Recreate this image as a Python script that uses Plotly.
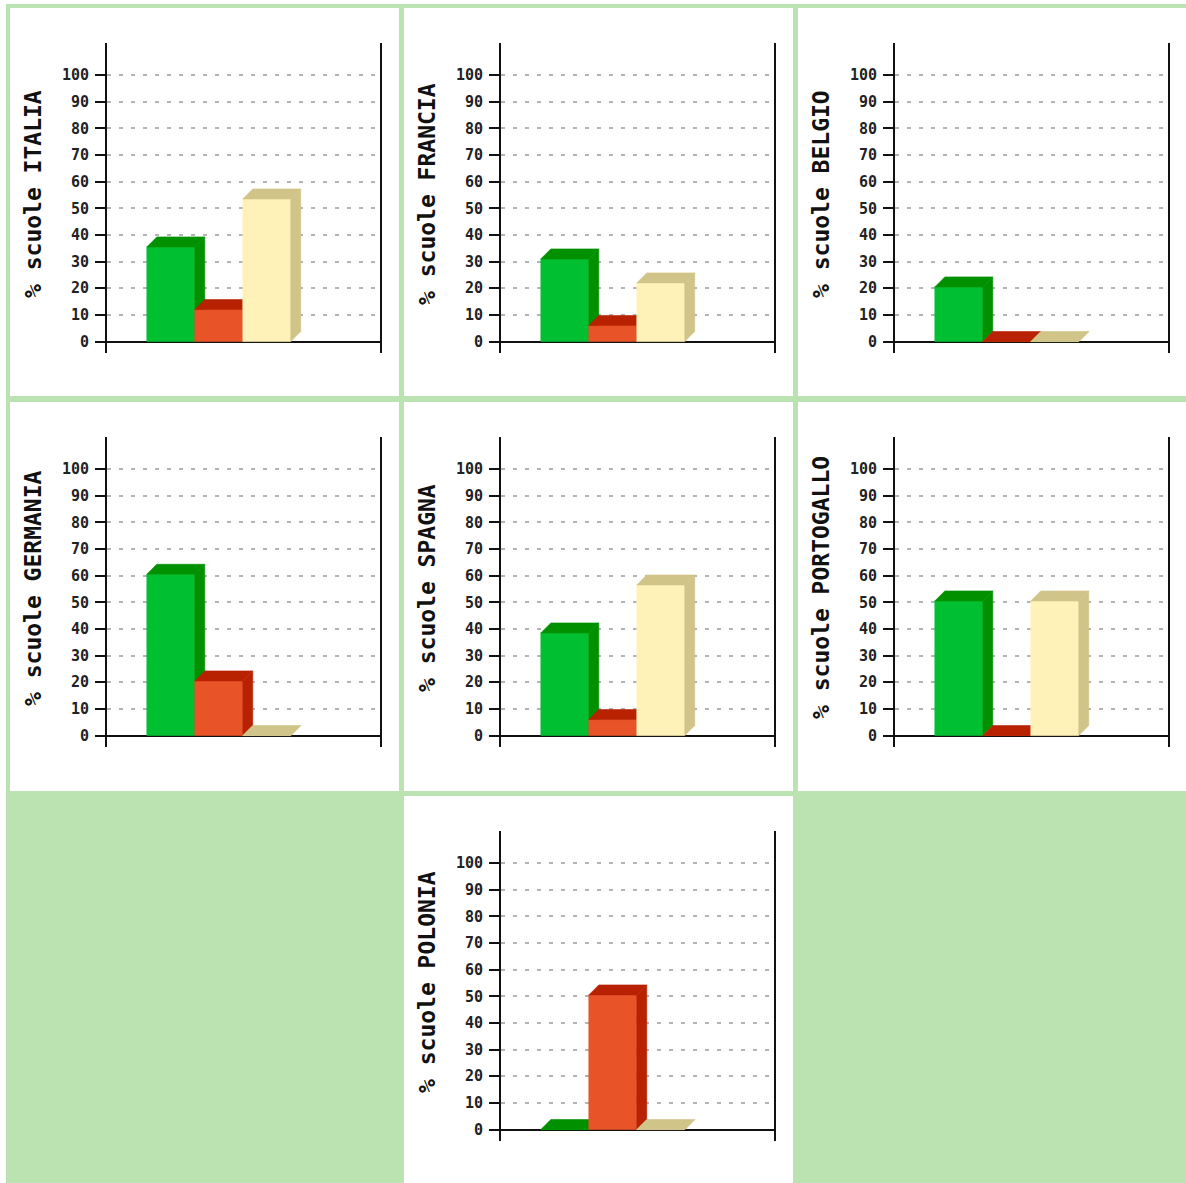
import plotly.graph_objects as go

# ---------------- data ----------------
countries = ["ITALIA", "FRANCIA", "BELGIO", "GERMANIA", "SPAGNA", "PORTOGALLO", "POLONIA"]
green_vals = [35.5, 31, 20.5, 60.5, 38.5, 50.5, 0]
red_vals = [12, 6, 0, 20.5, 6, 0, 50.5]
cream_vals = [53.5, 22, 0, 0, 56.5, 50.5, 0]
tick_vals = [0, 10, 20, 30, 40, 50, 60, 70, 80, 90, 100]
tick_text = [str(v) for v in tick_vals]
title_prefix = "% scuole "

# ---------------- styling / layout ----------------
W, H = 1186, 1183
GREEN_BG = "#BBE3B2"
front_colors = ["#00C032", "#E85428", "#FFF2B8"]
dark_colors = ["#009000", "#B82200", "#D0C488"]
cells = [(0, 0), (0, 1), (0, 2), (1, 0), (1, 1), (1, 2), (2, 1)]
col_left = [10, 404, 798]
row_top = [8, 402, 796]
AX_L, AX_R, AX_T, AX_B = 97, 370, 35, 345
X_RANGE = [-1.33, 4.36]
Y_RANGE = [-4.3, 112]
DX, DY = 0.208, 3.75  # 3D depth in data units
FONT = "DejaVu Sans Mono"

fig = go.Figure()
series = [green_vals, red_vals, cream_vals]

for k, (r, c) in enumerate(cells):
    n = k + 1
    xa = "x" if n == 1 else f"x{n}"
    ya = "y" if n == 1 else f"y{n}"
    for i in range(3):
        v = series[i][k]
        xl, xr = i - 0.5, i + 0.5
        polys = [
            ([xl, xr, xr, xl, xl], [0, 0, v, v, 0], front_colors[i]),
            ([xl, xr, xr + DX, xl + DX, xl], [v, v, v + DY, v + DY, v], dark_colors[i]),
            ([xr, xr + DX, xr + DX, xr, xr], [0, DY, v + DY, v, 0], dark_colors[i]),
        ]
        for px, py, col in polys:
            fig.add_trace(go.Scatter(
                x=px, y=py, xaxis=xa, yaxis=ya, mode="lines", fill="toself",
                fillcolor=col, line=dict(color=col, width=0.6),
                hoverinfo="skip", showlegend=False))

layout = dict(
    width=W, height=H, autosize=False,
    margin=dict(l=0, r=0, t=0, b=0, pad=0),
    paper_bgcolor="white", plot_bgcolor="white",
    showlegend=False,
)
annotations = []
for k, (r, c) in enumerate(cells):
    n = k + 1
    cl, rt = col_left[c], row_top[r]
    xkey = "xaxis" if n == 1 else f"xaxis{n}"
    ykey = "yaxis" if n == 1 else f"yaxis{n}"
    ya = "y" if n == 1 else f"y{n}"
    xa = "x" if n == 1 else f"x{n}"
    layout[xkey] = dict(
        domain=[(cl + AX_L) / W, (cl + AX_R) / W], range=X_RANGE,
        visible=False, anchor=ya, fixedrange=True)
    layout[ykey] = dict(
        domain=[1 - (rt + AX_B) / H, 1 - (rt + AX_T) / H], range=Y_RANGE,
        anchor=xa, tickmode="array", tickvals=tick_vals, ticktext=tick_text,
        ticks="outside", ticklen=10, tickwidth=2, tickcolor="#111",
        showline=True, mirror=True, linewidth=2, linecolor="#111",
        showgrid=True, gridcolor="#B4B4B4", gridwidth=1.5, griddash="4px,8px",
        zeroline=True, zerolinecolor="#111", zerolinewidth=2,
        tickfont=dict(family=FONT, size=15, color="#222", weight="bold"),
        ticklabelstandoff=3, fixedrange=True)
    layout[f"yaxis{n + 7}"] = dict(
        overlaying=ya, anchor=xa, range=Y_RANGE, tickmode="array",
        tickvals=tick_vals, ticks="inside", ticklen=6, tickwidth=2,
        tickcolor="#111", showticklabels=False, showgrid=False,
        zeroline=False, showline=False, fixedrange=True)
    annotations.append(dict(
        text=title_prefix + countries[k], textangle=-90,
        x=(cl + 23) / W, y=1 - (rt + 186) / H, xref="paper", yref="paper",
        xanchor="center", yanchor="middle", showarrow=False,
        font=dict(family=FONT, size=23, color="#111", weight="bold")))
layout["annotations"] = annotations

# green frame / separators / empty cells (paper coords from pixels)
def rect(x0, y0, x1, y1):
    return dict(type="rect", xref="paper", yref="paper",
                x0=x0 / W, x1=x1 / W, y0=1 - y1 / H, y1=1 - y0 / H,
                fillcolor=GREEN_BG, line=dict(width=0), layer="below")

shapes = [
    rect(6, 4, W, 8),
    rect(6, 4, 10, H),
    rect(399, 4, 404, H),
    rect(793, 4, 798, H),
    rect(6, 396, W, 402),
    rect(6, 791, W, 796),
    rect(6, 791, 404, H),
    rect(793, 791, W, H),
]
layout["shapes"] = shapes
fig.update_layout(**layout)

fig.write_html("out.html", config={"displayModeBar": False},
               post_script="document.body.style.margin='0';")
